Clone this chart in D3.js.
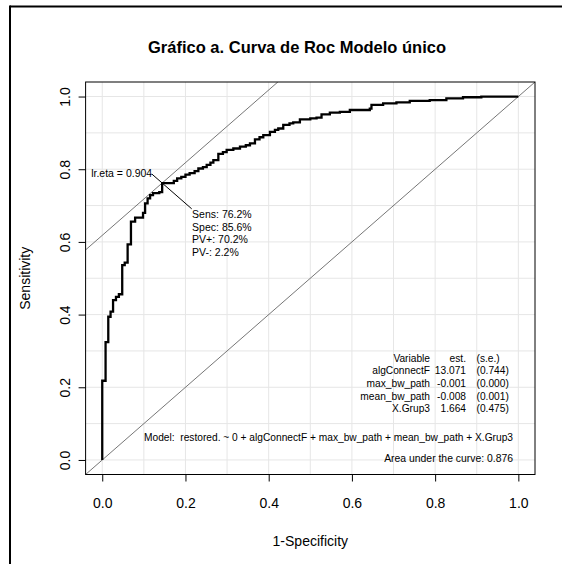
<!DOCTYPE html>
<html>
<head>
<meta charset="utf-8">
<script src="https://cdn.jsdelivr.net/npm/d3@7"></script>
<style>
  body { margin: 0; background: #fff; }
  svg { font-family: "Liberation Sans", Arial, sans-serif; }
  text { white-space: pre; }
</style>
</head>
<body>
<div id="chart"></div>
<script>
// ROC curve points (1-specificity, sensitivity)
const fpr = [0, 0, 0.008, 0.0145, 0.02, 0.026, 0.033, 0.04, 0.048, 0.054, 0.061, 0.069, 0.079, 0.088,
    0.098, 0.103, 0.109, 0.115, 0.122, 0.137, 0.144, 0.165, 0.172, 0.18, 0.19, 0.2, 0.21, 0.222,
    0.231, 0.242, 0.251, 0.26, 0.267, 0.279, 0.29, 0.299, 0.315, 0.331, 0.345, 0.355, 0.367, 0.378,
    0.387, 0.403, 0.415, 0.423, 0.435, 0.45, 0.459, 0.475, 0.5, 0.515, 0.527, 0.547, 0.571, 0.595,
    0.643, 0.647, 0.675, 0.707, 0.739, 0.787, 0.827, 0.867, 0.911, 1.0];
const tpr = [0, 0.218, 0.324, 0.394, 0.408, 0.44, 0.449, 0.456, 0.536, 0.543, 0.593, 0.656, 0.667, 0.667,
    0.68, 0.706, 0.72, 0.729, 0.734, 0.737, 0.762, 0.762, 0.768, 0.775, 0.779, 0.785, 0.789, 0.795,
    0.802, 0.806, 0.812, 0.818, 0.825, 0.842, 0.847, 0.853, 0.857, 0.862, 0.866, 0.871, 0.882, 0.888,
    0.894, 0.903, 0.908, 0.912, 0.922, 0.926, 0.929, 0.937, 0.94, 0.942, 0.951, 0.956, 0.958, 0.963,
    0.967, 0.977, 0.981, 0.984, 0.988, 0.99, 0.995, 0.998, 1.0, 1.0];

const xTicks = [0, 0.2, 0.4, 0.6, 0.8, 1.0];
const yTicks = [0, 0.2, 0.4, 0.6, 0.8, 1.0];
const gridLines = [0, 0.1, 0.2, 0.3, 0.4, 0.5, 0.6, 0.7, 0.8, 0.9, 1.0];

// optimal cut point
const optSens = 0.762;
const optSpec = 0.856;
const optLabel = "lr.eta = 0.904";
const optInfo = ["Sens: 76.2%", "Spec: 85.6%", "PV+: 70.2%", "PV-: 2.2%"];

// model table
const tableVars = ["Variable", "algConnectF", "max_bw_path", "mean_bw_path", "X.Grup3"];
const tableEst = ["est.", "13.071", "-0.001", "-0.008", "1.664"];
const tableSE = ["(s.e.)", "(0.744)", "(0.000)", "(0.001)", "(0.475)"];
const modelText = "Model:  restored. ~ 0 + algConnectF + max_bw_path + mean_bw_path + X.Grup3";
const aucText = "Area under the curve: 0.876";

const titleText = "Gráfico a. Curva de Roc Modelo único";

const width = 562, height = 564;
const svg = d3.select("#chart").append("svg")
    .attr("width", width)
    .attr("height", height);

// outer frame (cropped, only left and top edges visible)
svg.append("line").attr("x1", 10).attr("y1", 6.5).attr("x2", width).attr("y2", 6.5)
    .attr("stroke", "#000").attr("stroke-width", 2);
svg.append("line").attr("x1", 10).attr("y1", 5.5).attr("x2", 10).attr("y2", height)
    .attr("stroke", "#000").attr("stroke-width", 2);

const box = { left: 85.6, right: 535, top: 82, bottom: 474.5 };

const x = d3.scaleLinear().domain([-0.04, 1.04]).range([box.left, box.right]);
const y = d3.scaleLinear().domain([-0.04, 1.04]).range([box.bottom, box.top]);

svg.append("defs").append("clipPath").attr("id", "clip")
    .append("rect")
    .attr("x", box.left).attr("y", box.top)
    .attr("width", box.right - box.left).attr("height", box.bottom - box.top);

const plot = svg.append("g").attr("clip-path", "url(#clip)");

// grid
plot.selectAll(".vgrid").data(gridLines).enter().append("line")
    .attr("x1", d => x(d)).attr("x2", d => x(d))
    .attr("y1", box.top).attr("y2", box.bottom)
    .attr("stroke", "#e6e6e6").attr("stroke-width", 1);
plot.selectAll(".hgrid").data(gridLines).enter().append("line")
    .attr("y1", d => y(d)).attr("y2", d => y(d))
    .attr("x1", box.left).attr("x2", box.right)
    .attr("stroke", "#e6e6e6").attr("stroke-width", 1);

// diagonal and tangent lines
const icpt = optSens + optSpec - 1;
plot.append("line")
    .attr("x1", x(-0.04)).attr("y1", y(-0.04))
    .attr("x2", x(1.04)).attr("y2", y(1.04))
    .attr("stroke", "#666").attr("stroke-width", 0.9);
plot.append("line")
    .attr("x1", x(-0.04)).attr("y1", y(-0.04 + icpt))
    .attr("x2", x(1.04 - icpt)).attr("y2", y(1.04))
    .attr("stroke", "#666").attr("stroke-width", 0.9);

// ROC curve
const pts = fpr.map((d, i) => [d, tpr[i]]);
const line = d3.line()
    .x(d => x(d[0]))
    .y(d => y(d[1]))
    .curve(d3.curveStepAfter);
plot.append("path")
    .attr("d", line(pts))
    .attr("fill", "none")
    .attr("stroke", "#000")
    .attr("stroke-width", 2.3)
    .attr("stroke-linejoin", "miter");

// annotation at optimal point
const ox = 1 - optSpec, oy = optSens;
plot.append("line")
    .attr("x1", x(ox - 0.025)).attr("y1", y(oy + 0.025))
    .attr("x2", x(ox + 0.071)).attr("y2", y(oy - 0.071))
    .attr("stroke", "#000").attr("stroke-width", 1);

svg.append("text")
    .attr("x", x(ox - 0.024)).attr("y", y(oy + 0.027))
    .attr("dy", "0.35em")
    .attr("text-anchor", "end")
    .style("font-size", "10.5px")
    .text(optLabel);

svg.selectAll(".info").data(optInfo).enter().append("text")
    .attr("x", x(ox + 0.072))
    .attr("y", (d, i) => y(oy - 0.086) + i * 12.6)
    .attr("dy", "0.35em")
    .style("font-size", "10.5px")
    .text(d => d);

// model table
const colVar = 430, colEst = 466, colSE = 476.5;
const rowY = i => 358 + i * 12.7;
const tableFont = "10.2px";
svg.selectAll(".tv").data(tableVars).enter().append("text")
    .attr("x", colVar).attr("y", (d, i) => rowY(i)).attr("dy", "0.35em")
    .attr("text-anchor", "end").style("font-size", tableFont).text(d => d);
svg.selectAll(".te").data(tableEst).enter().append("text")
    .attr("x", colEst).attr("y", (d, i) => rowY(i)).attr("dy", "0.35em")
    .attr("text-anchor", "end").style("font-size", tableFont).text(d => d);
svg.selectAll(".ts").data(tableSE).enter().append("text")
    .attr("x", colSE).attr("y", (d, i) => rowY(i)).attr("dy", "0.35em")
    .style("font-size", tableFont).text(d => d);

svg.append("text")
    .attr("x", 513).attr("y", 437.7).attr("dy", "0.35em")
    .attr("text-anchor", "end").style("font-size", "10.2px")
    .text(modelText);
svg.append("text")
    .attr("x", 513).attr("y", 458.3).attr("dy", "0.35em")
    .attr("text-anchor", "end").style("font-size", "10.4px")
    .text(aucText);

// plot box
svg.append("rect")
    .attr("x", box.left).attr("y", box.top)
    .attr("width", box.right - box.left).attr("height", box.bottom - box.top)
    .attr("fill", "none").attr("stroke", "#000").attr("stroke-width", 1);

// axes
const xAxis = svg.append("g")
    .attr("transform", `translate(0,${box.bottom})`)
    .call(d3.axisBottom(x).tickValues(xTicks).tickFormat(d3.format(".1f"))
        .tickSize(7).tickSizeOuter(0).tickPadding(17));
xAxis.select(".domain").remove();
xAxis.selectAll("text").style("font-size", "14px").style("font-family", "Liberation Sans, Arial, sans-serif")
    .attr("fill", "#000");
xAxis.selectAll("line").attr("stroke", "#000");

const yAxis = svg.append("g")
    .attr("transform", `translate(${box.left},0)`)
    .call(d3.axisLeft(y).tickValues(yTicks).tickFormat(d3.format(".1f"))
        .tickSize(7).tickSizeOuter(0));
yAxis.select(".domain").remove();
yAxis.selectAll("line").attr("stroke", "#000");
yAxis.selectAll("text")
    .attr("transform", "rotate(-90)")
    .attr("x", 0).attr("y", 65 - box.left)
    .attr("dy", "0.35em")
    .attr("text-anchor", "middle")
    .attr("fill", "#000")
    .style("font-size", "14px")
    .style("font-family", "Liberation Sans, Arial, sans-serif");

// axis titles
svg.append("text")
    .attr("x", (box.left + box.right) / 2).attr("y", 541).attr("dy", "0.35em")
    .attr("text-anchor", "middle").style("font-size", "14px")
    .text("1-Specificity");
svg.append("text")
    .attr("transform", `translate(25,${(box.top + box.bottom) / 2}) rotate(-90)`)
    .attr("dy", "0.35em")
    .attr("text-anchor", "middle").style("font-size", "14px")
    .text("Sensitivity");

// title
svg.append("text")
    .attr("x", 297).attr("y", 47).attr("dy", "0.35em")
    .attr("text-anchor", "middle")
    .style("font-size", "16.5px").style("font-weight", "bold")
    .text(titleText);
</script>
</body>
</html>
